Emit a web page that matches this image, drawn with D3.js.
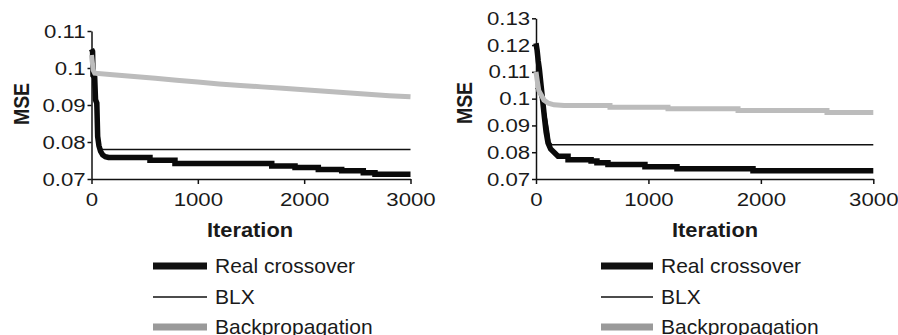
<!DOCTYPE html>
<html>
<head>
<meta charset="utf-8">
<script src="https://cdn.jsdelivr.net/npm/d3@7"></script>
<style>
  body { margin: 0; background: #fff; }
  svg { font-family: "Liberation Sans", Arial, sans-serif; }
  .axis path, .axis line { stroke: #111; stroke-width: 1.5; }
  .axis text { font-size: 19px; fill: #1a1a1a; }
  .title { font-size: 19.5px; font-weight: bold; fill: #1a1a1a; }
  .legend text { font-size: 21px; fill: #1a1a1a; }
</style>
</head>
<body>
<svg width="898" height="335"></svg>
<script>
// values: [iteration, MSE]
var iterTicks = [0, 1000, 2000, 3000];
var leftTicks = [0.07, 0.08, 0.09, 0.1, 0.11];
var rightTicks = [0.07, 0.08, 0.09, 0.1, 0.11, 0.12, 0.13];
var legendLabels = ['Real crossover', 'BLX', 'Backpropagation'];

var leftReal = [[0,0.1051],[10,0.1045],[14,0.098],[30,0.0975],[38,0.0914],[50,0.0905],[58,0.0815],[70,0.079],[85,0.0775],[105,0.0765],[130,0.076],[160,0.0758],
  [550,0.0758],[550,0.0751],[785,0.0751],[785,0.0742],[1695,0.0742],[1695,0.0735],[1914,0.0735],[1914,0.0731],[2133,0.0731],[2133,0.0726],
  [2353,0.0726],[2353,0.0722],[2556,0.0722],[2556,0.0717],[2666,0.0717],[2666,0.0713],[3000,0.0713]];
var leftBLX = [[0,0.100],[30,0.092],[60,0.084],[80,0.0785],[100,0.078],[3000,0.078]];
var leftBP = [[0,0.1035],[8,0.1015],[15,0.0995],[30,0.0986],[200,0.0982],[400,0.0977],[600,0.0972],[800,0.0967],[1000,0.0962],[1200,0.0957],
  [1400,0.0953],[1600,0.0949],[1800,0.0945],[2000,0.0941],[2200,0.0937],[2400,0.0933],[2600,0.0929],[2800,0.0925],[3000,0.0922]];

var rightReal = [[0,0.1207],[10,0.118],[20,0.114],[30,0.111],[45,0.105],[60,0.099],[75,0.093],[90,0.0875],[107,0.0835],[130,0.0812],[160,0.080],
  [196,0.0785],[285,0.0785],[285,0.0772],[490,0.0772],[490,0.0767],[542,0.0767],[542,0.0761],[640,0.0761],[640,0.0754],[969,0.0754],[969,0.0746],
  [1254,0.0746],[1254,0.0738],[1930,0.0738],[1930,0.0731],[3000,0.0731]];
var rightBLX = [[0,0.104],[30,0.1015],[60,0.0985],[80,0.0955],[100,0.091],[115,0.087],[125,0.0838],[140,0.0828],[3000,0.0828]];
var rightBP = [[0,0.110],[10,0.107],[25,0.103],[45,0.1015],[70,0.0995],[110,0.0983],[160,0.0977],[250,0.0974],[658,0.0974],[658,0.0968],
  [1174,0.0968],[1174,0.0962],[1797,0.0962],[1797,0.0956],[2588,0.0956],[2588,0.0948],[3000,0.0948]];

var svg = d3.select('svg');

var panels = [
  {x0: 91.5, x1: 410.5, yTop: 31, yBot: 179, ticks: leftTicks, real: leftReal, blx: leftBLX, bp: leftBP,
   mseX: 21, mseY: 104, iterX: 250, legX: 153, legW: 54},
  {x0: 536, x1: 873.3, yTop: 18.3, yBot: 179, ticks: rightTicks, real: rightReal, blx: rightBLX, bp: rightBP,
   mseX: 464, mseY: 103, iterX: 715, legX: 601, legW: 52}
];

panels.forEach(function(p) {
  var x = d3.scaleLinear().domain([0, 3000]).range([p.x0, p.x1]);
  var y = d3.scaleLinear().domain([p.ticks[0], p.ticks[p.ticks.length - 1]]).range([p.yBot, p.yTop]);
  var line = d3.line().x(d => x(d[0])).y(d => y(d[1]));

  var xa = svg.append('g').attr('class', 'axis')
    .attr('transform', 'translate(0,' + p.yBot + ')')
    .call(d3.axisBottom(x).tickValues(iterTicks).tickFormat(d3.format('d')).tickSize(5).tickPadding(9).tickSizeOuter(0));
  xa.selectAll('text').attr('transform', 'scale(1.17,1)');
  var ya = svg.append('g').attr('class', 'axis')
    .attr('transform', 'translate(' + p.x0 + ',0)')
    .call(d3.axisLeft(y).tickValues(p.ticks).tickFormat(d3.format('~g')).tickSize(4).tickPadding(1).tickSizeOuter(0));
  ya.selectAll('text').attr('transform', 'scale(1.17,1)');

  svg.append('path').datum(p.blx).attr('d', line)
    .attr('fill', 'none').attr('stroke', '#111').attr('stroke-width', 1.5);
  svg.append('path').datum(p.real).attr('d', line)
    .attr('fill', 'none').attr('stroke', '#0a0a0a').attr('stroke-width', 5.5);
  svg.append('path').datum(p.bp).attr('d', line)
    .attr('fill', 'none').attr('stroke', '#bcbcbc').attr('stroke-width', 5);

  svg.append('text').attr('class', 'title')
    .attr('transform', 'translate(' + p.mseX + ',' + p.mseY + ') rotate(-90) scale(1,1.1)')
    .attr('text-anchor', 'middle').attr('dominant-baseline', 'central').text('MSE');
  svg.append('text').attr('class', 'title')
    .attr('transform', 'translate(' + p.iterX + ',237) scale(1.12,1)')
    .attr('text-anchor', 'middle').text('Iteration');

  var rowY = [266, 297, 327];
  var leg = svg.append('g').attr('class', 'legend');
  leg.append('rect').attr('x', p.legX).attr('y', rowY[0] - 3.5).attr('width', p.legW).attr('height', 7).attr('fill', '#111');
  leg.append('line').attr('x1', p.legX).attr('x2', p.legX + p.legW).attr('y1', rowY[1]).attr('y2', rowY[1])
    .attr('stroke', '#111').attr('stroke-width', 1.5);
  leg.append('rect').attr('x', p.legX).attr('y', rowY[2] - 3.5).attr('width', p.legW).attr('height', 7).attr('fill', '#9a9a9a');
  leg.selectAll('text').data(legendLabels).enter().append('text')
    .attr('x', p.legX + p.legW + 8).attr('y', (d, i) => rowY[i] + 7)
    .text(d => d);
});
</script>
</body>
</html>
